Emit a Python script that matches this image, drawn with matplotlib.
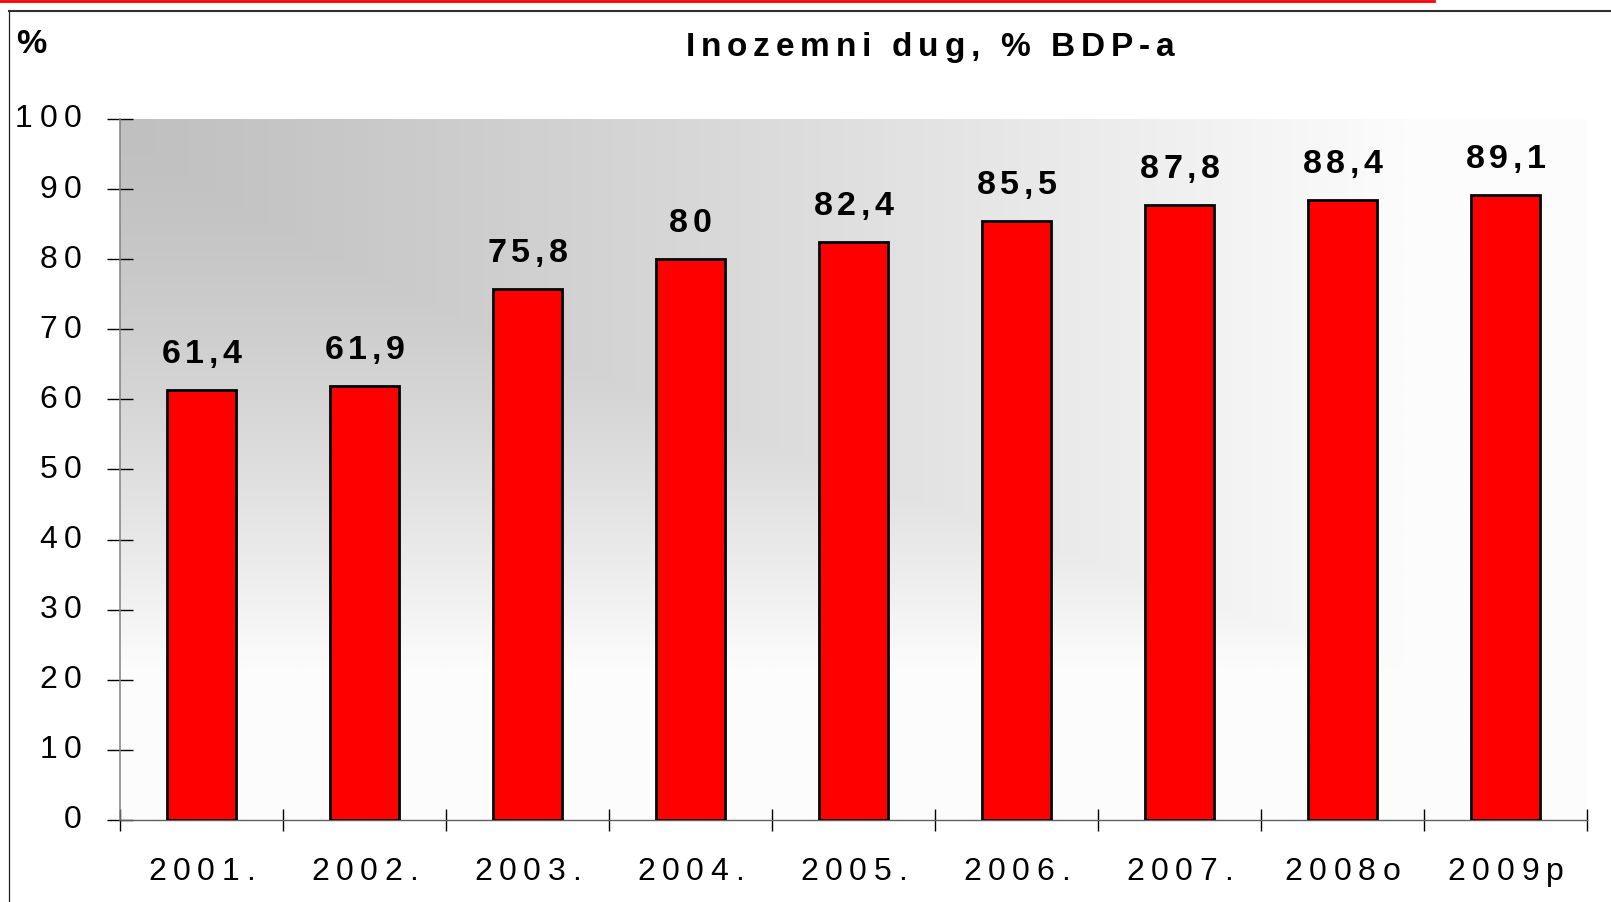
import numpy as np
import matplotlib
matplotlib.use("Agg")
import matplotlib.pyplot as plt
from matplotlib.lines import Line2D
from matplotlib.font_manager import FontProperties, findfont, get_font

# podaci
godine = ['2001.', '2002.', '2003.', '2004.', '2005.', '2006.', '2007.', '2008o', '2009p']
dug_bdp = [61.4, 61.9, 75.8, 80, 82.4, 85.5, 87.8, 88.4, 89.1]
y_ticks = [0, 10, 20, 30, 40, 50, 60, 70, 80, 90, 100]
naslov = 'Inozemni dug, % BDP-a'
jedinica = '%'

FONT = 'Liberation Sans'


def razmaknut_tekst(x, y, s, size, track, weight='normal', ha='center',
                    coords='data', dx=0, dy=0):
    # crta tekst slovo po slovo da dobijemo razmak izmedju slova
    prop = FontProperties(family=FONT, weight=weight, size=size)
    font = get_font(findfont(prop))
    font.set_size(size, 72)
    adv = [font.load_char(ord(c)).linearHoriAdvance / 65536 for c in s]
    total = sum(adv) + track * (len(s) - 1)
    if ha == 'center':
        pos = -total / 2
    elif ha == 'right':
        pos = -total
    else:
        pos = 0
    for c, a in zip(s, adv):
        if c != ' ':
            plt.annotate(c, xy=(x, y), xycoords=coords, xytext=(pos + dx, dy),
                         textcoords='offset points', ha='left', va='baseline',
                         fontproperties=prop, color='black', annotation_clip=False)
        pos += a + track


fig = plt.figure(figsize=(16.11, 9.02), dpi=100)
ax = fig.add_axes([120 / 1611, 1 - 820 / 902, 1467 / 1611, 701 / 902])

n = len(godine)
x = np.arange(n)

# siva pozadina (gradijent iz gornjeg lijevog kuta)
u = np.linspace(0, 1, 400)[None, :]
v = np.linspace(0, 1, 300)[:, None]
t = np.maximum((u / 0.9) ** 1.15, (v / 0.8) ** 1.5)
siva = np.clip(192 + 62 * t, 0, 252) / 255.0
img = np.dstack([siva, siva, siva])
ax.imshow(img, extent=(-0.5, n - 0.5, 0, 100), aspect='auto', zorder=0,
          interpolation='bilinear', origin='upper')

ax.bar(x, dug_bdp, width=0.42, color='#ff0000', edgecolor='black', linewidth=2.0, zorder=3)

ax.set_xlim(-0.5, n - 0.5)
ax.set_ylim(0, 100)

ax.spines['top'].set_visible(False)
ax.spines['right'].set_visible(False)
ax.spines['left'].set_color('#808080')
ax.spines['left'].set_linewidth(1.1)
ax.spines['bottom'].set_color('#606060')
ax.spines['bottom'].set_linewidth(1.0)

ax.set_yticks(y_ticks)
ax.set_yticklabels([])
ax.tick_params(axis='y', direction='inout', length=19.4, width=1.0, color='black')

ax.set_xticks(x)
ax.set_xticklabels([])
ax.set_xticks(np.arange(n + 1) - 0.5, minor=True)
ax.tick_params(axis='x', which='major', length=0)
ax.tick_params(axis='x', which='minor', direction='inout', length=15.8, width=1.0, color='black')

# oznake osi
for yt in y_ticks:
    razmaknut_tekst(0, yt, str(yt), 23, 4.8, ha='right',
                    coords=ax.get_yaxis_transform(), dx=-27.7, dy=-6.1)
for i, g in enumerate(godine):
    razmaknut_tekst(i, 0, g, 23, 4.8, coords=ax.get_xaxis_transform(), dy=-43.2)

# vrijednosti iznad stupaca
for i, val in enumerate(dug_bdp):
    lab = f'{val:g}'.replace('.', ',')
    razmaknut_tekst(i, val, lab, 24.5, 3.3, weight='bold', dy=19.4)

# naslov i jedinica
razmaknut_tekst(930 / 1611, 1 - 56 / 902, naslov, 24, 4.2, weight='bold',
                coords='figure fraction')
razmaknut_tekst(16 / 1611, 1 - 53 / 902, jedinica, 24.5, 0, weight='bold', ha='left',
                coords='figure fraction')

# okvir i crvena linija na vrhu
fig.add_artist(Line2D([0, 1434 / 1611], [1 - 1.3 / 902] * 2, color='#ff0000', lw=2.0,
                      transform=fig.transFigure))
fig.add_artist(Line2D([9 / 1611, 1], [1 - 11 / 902] * 2, color='#303030', lw=1.5,
                      transform=fig.transFigure))
fig.add_artist(Line2D([9 / 1611] * 2, [0, 1 - 11 / 902], color='#202020', lw=0.9,
                      transform=fig.transFigure))

plt.savefig('out.png', dpi=100)
